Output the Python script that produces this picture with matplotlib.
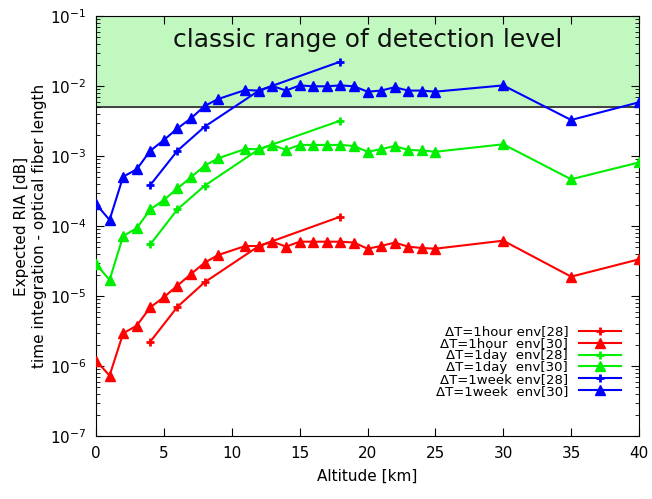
import matplotlib
matplotlib.use("Agg")
import matplotlib.pyplot as plt
import numpy as np

# altitudes [km]
alt30 = [0, 1, 2, 3, 4, 5, 6, 7, 8, 9, 11, 12, 13, 14, 15, 16, 17, 18, 19, 20,
         21, 22, 23, 24, 25, 30, 35, 40]
alt28 = [4, 6, 8, 12, 18]

# env[30] series
hour30 = [1.19e-6, 7.3e-7, 2.93e-6, 3.77e-6, 6.9e-6, 9.6e-6, 1.41e-5, 2.06e-5,
          2.99e-5, 3.85e-5, 5.18e-5, 5.18e-5, 5.97e-5, 5.07e-5, 5.97e-5,
          5.97e-5, 5.97e-5, 5.97e-5, 5.8e-5, 4.74e-5, 5.18e-5, 5.8e-5,
          5.07e-5, 4.85e-5, 4.74e-5, 6.17e-5, 1.89e-5, 3.34e-5]
day30 = [2.87e-5, 1.69e-5, 7.2e-5, 9.3e-5, 1.73e-4, 2.35e-4, 3.45e-4, 4.96e-4,
         7.28e-4, 9.27e-4, 1.26e-3, 1.25e-3, 1.44e-3, 1.22e-3, 1.44e-3,
         1.44e-3, 1.44e-3, 1.44e-3, 1.39e-3, 1.15e-3, 1.25e-3, 1.39e-3,
         1.22e-3, 1.2e-3, 1.15e-3, 1.47e-3, 4.65e-4, 8.1e-4]
week30 = [2.06e-4, 1.22e-4, 5.06e-4, 6.46e-4, 1.19e-3, 1.69e-3, 2.48e-3,
          3.45e-3, 5.18e-3, 6.52e-3, 8.77e-3, 8.58e-3, 1.0e-2, 8.6e-3, 1.02e-2,
          9.9e-3, 9.9e-3, 1.02e-2, 9.9e-3, 8.3e-3, 8.6e-3, 9.6e-3, 8.6e-3,
          8.6e-3, 8.3e-3, 1.02e-2, 3.27e-3, 5.85e-3]

# env[28] series
hour28 = [2.23e-6, 7.0e-6, 1.57e-5, 5.18e-5, 1.36e-4]
day28 = [5.47e-5, 1.73e-4, 3.76e-4, 1.25e-3, 3.2e-3]
week28 = [3.85e-4, 1.19e-3, 2.62e-3, 8.6e-3, 2.23e-2]

labels = ["ΔT=1hour env[28]", "ΔT=1hour  env[30]",
          "ΔT=1day  env[28]", "ΔT=1day  env[30]",
          "ΔT=1week env[28]", "ΔT=1week  env[30]"]

detect_lo, detect_hi = 5e-3, 1e-1

fig = plt.figure(figsize=(6.52, 4.99), dpi=100)
ax = fig.add_axes([96/652, 1-436/499, 543/652, 420/499])

ax.axhspan(detect_lo, detect_hi, color="#c0f8c0", zorder=0)
ax.axhline(detect_lo, color="#404040", lw=1.4, zorder=1)
ax.text(20.0, 4.6e-2, "classic range of detection level", ha="center",
        va="center", fontsize=18, color="#111111")

cols = ["#ff0000", "#00ee00", "#0000ff"]
series = [(hour28, hour30), (day28, day30), (week28, week30)]
for k, (s28, s30) in enumerate(series):
    c = cols[k]
    ax.plot(alt28, s28, color=c, lw=1.5, marker="+", ms=6, mew=2,
            label=labels[2*k], zorder=3)
    ax.plot(alt30, s30, color=c, lw=1.5, marker="^", ms=7,
            label=labels[2*k+1], zorder=3)

ax.set_yscale("log")
ax.set_xlim(0, 40)
ax.set_ylim(1e-7, 1e-1)
ax.set_xticks(np.arange(0, 41, 5))
ax.tick_params(which="both", direction="in", top=True, right=True,
               labelsize=11, color="black")
ax.tick_params(which="major", length=6, pad=7)
ax.tick_params(which="minor", length=3)
ax.set_xlabel("Altitude [km]", fontsize=11, labelpad=6)
ax.set_ylabel("Expected RIA [dB]\ntime integration - optical fiber length",
              fontsize=11, labelpad=2)

leg = ax.legend(loc="lower right", bbox_to_anchor=(621/652, 1-398/499),
                bbox_transform=fig.transFigure, frameon=False, fontsize=9.5,
                markerfirst=False, handlelength=3.2, handletextpad=0.8,
                labelspacing=-0.08, borderpad=0, borderaxespad=0)

fig.savefig("out.png", dpi=100)
